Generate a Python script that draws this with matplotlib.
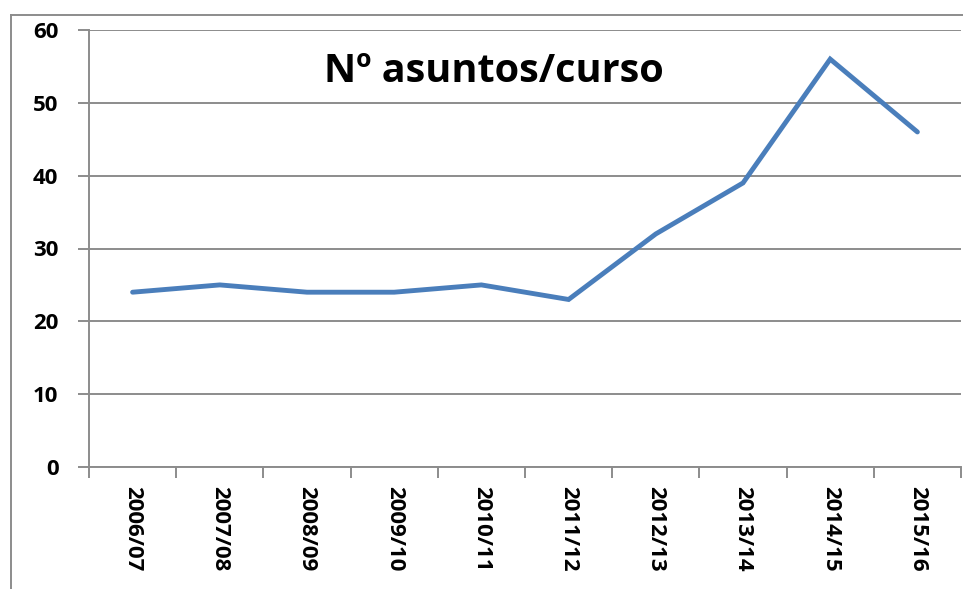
import matplotlib.pyplot as plt
from matplotlib.lines import Line2D

cursos = ["2006/07", "2007/08", "2008/09", "2009/10", "2010/11",
          "2011/12", "2012/13", "2013/14", "2014/15", "2015/16"]
asuntos = [24, 25, 24, 24, 25, 23, 32, 39, 56, 46]

plt.rcParams['font.family'] = ['Open Sans', 'DejaVu Sans']
grey = "#8c8c8c"

fig = plt.figure(figsize=(9.63, 5.89), dpi=100)
ax = fig.add_axes([89 / 963, 1 - 467 / 589, 872 / 963, 437 / 589])

x = list(range(len(cursos)))
ax.plot(x, asuntos, color="#4a7ebb", lw=3.5, solid_capstyle="round", solid_joinstyle="miter")

ax.set_xlim(-0.5, len(cursos) - 0.5)
ax.set_ylim(0, 60)
ax.set_yticks(range(0, 61, 10))
ax.set_yticklabels([str(v) for v in range(0, 61, 10)], fontsize=16, fontweight="bold")
ax.yaxis.grid(True, color=grey, lw=1.4)
ax.set_axisbelow(True)

ax.set_xticks(x)
ax.set_xticklabels(cursos, rotation=-90, fontsize=16, fontweight="bold", va="top")
ax.set_xticks([i - 0.5 for i in range(len(cursos) + 1)], minor=True)
ax.tick_params(axis="x", which="major", length=0, pad=14)
ax.tick_params(axis="x", which="minor", length=8, color=grey, width=1.4)
ax.tick_params(axis="y", length=8, color=grey, width=1.4, pad=14)

for s in ["top", "right"]:
    ax.spines[s].set_visible(False)
for s in ["left", "bottom"]:
    ax.spines[s].set_color(grey)
    ax.spines[s].set_linewidth(1.4)

ax.text(0.464, 0.905, "Nº asuntos/curso", transform=ax.transAxes, ha="center", va="center",
        fontsize=28.5, fontweight="bold")

# outer chart frame
fig.add_artist(Line2D([11 / 963, 1], [1 - 15 / 589] * 2, color=grey, lw=1.4, transform=fig.transFigure))
fig.add_artist(Line2D([11 / 963] * 2, [0, 1 - 15 / 589], color=grey, lw=1.4, transform=fig.transFigure))

fig.savefig("out.png", dpi=100)
